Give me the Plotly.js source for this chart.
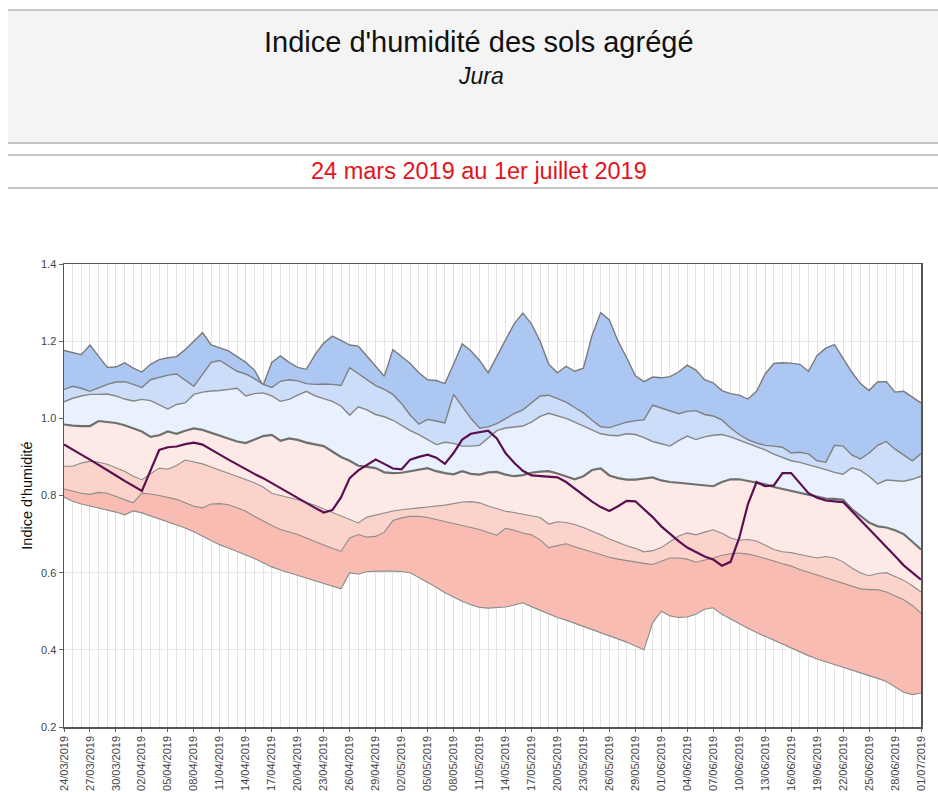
<!DOCTYPE html>
<html>
<head>
<meta charset="utf-8">
<script src="https://cdn.plot.ly/plotly-3.0.1.min.js"></script>
<style>
html,body{margin:0;padding:0;background:#fff;}
#chart{width:938px;height:792px;}
</style>
</head>
<body>
<div id="chart"></div>
<script>
// ---- data ----
const startDate = '2019-03-24';
const dates = [
'2019-03-24','2019-03-25','2019-03-26','2019-03-27','2019-03-28','2019-03-29','2019-03-30','2019-03-31',
'2019-04-01','2019-04-02','2019-04-03','2019-04-04','2019-04-05','2019-04-06','2019-04-07','2019-04-08','2019-04-09','2019-04-10',
'2019-04-11','2019-04-12','2019-04-13','2019-04-14','2019-04-15','2019-04-16','2019-04-17','2019-04-18','2019-04-19','2019-04-20',
'2019-04-21','2019-04-22','2019-04-23','2019-04-24','2019-04-25','2019-04-26','2019-04-27','2019-04-28','2019-04-29','2019-04-30',
'2019-05-01','2019-05-02','2019-05-03','2019-05-04','2019-05-05','2019-05-06','2019-05-07','2019-05-08','2019-05-09','2019-05-10',
'2019-05-11','2019-05-12','2019-05-13','2019-05-14','2019-05-15','2019-05-16','2019-05-17','2019-05-18','2019-05-19','2019-05-20',
'2019-05-21','2019-05-22','2019-05-23','2019-05-24','2019-05-25','2019-05-26','2019-05-27','2019-05-28','2019-05-29','2019-05-30','2019-05-31',
'2019-06-01','2019-06-02','2019-06-03','2019-06-04','2019-06-05','2019-06-06','2019-06-07','2019-06-08','2019-06-09','2019-06-10',
'2019-06-11','2019-06-12','2019-06-13','2019-06-14','2019-06-15','2019-06-16','2019-06-17','2019-06-18','2019-06-19','2019-06-20',
'2019-06-21','2019-06-22','2019-06-23','2019-06-24','2019-06-25','2019-06-26','2019-06-27','2019-06-28','2019-06-29','2019-06-30',
'2019-07-01'
];

const maxi = [1.176,1.17,1.165,1.19,1.16,1.132,1.133,1.144,1.13,1.12,1.14,1.152,1.157,1.16,1.178,1.2,1.222,1.19,1.183,1.175,
1.16,1.145,1.125,1.085,1.145,1.162,1.145,1.132,1.127,1.165,1.195,1.213,1.202,1.19,1.187,1.16,1.135,1.109,1.178,1.16,
1.142,1.118,1.1,1.098,1.09,1.14,1.193,1.175,1.15,1.118,1.16,1.2,1.245,1.273,1.245,1.2,1.14,1.118,1.135,1.122,
1.13,1.215,1.274,1.255,1.2,1.157,1.11,1.095,1.107,1.105,1.108,1.12,1.138,1.125,1.1,1.092,1.072,1.064,1.06,1.05,
1.07,1.115,1.142,1.144,1.143,1.14,1.122,1.163,1.182,1.191,1.155,1.12,1.09,1.072,1.095,1.095,1.068,1.07,1.055,1.04];

const decile9 = [1.075,1.083,1.078,1.07,1.079,1.088,1.094,1.095,1.088,1.08,1.1,1.107,1.112,1.115,1.098,1.083,1.114,1.145,1.15,1.135,
1.122,1.115,1.103,1.088,1.08,1.096,1.1,1.097,1.09,1.088,1.089,1.088,1.085,1.131,1.115,1.1,1.085,1.075,1.062,1.038,
1.008,0.985,0.997,0.993,0.988,1.062,1.032,1.0,0.975,0.978,0.986,1.0,1.012,1.022,1.04,1.058,1.06,1.052,1.042,1.028,
1.014,0.995,0.978,0.976,0.984,0.99,0.994,0.996,1.034,1.027,1.02,1.012,1.018,1.02,1.01,1.006,0.996,0.975,0.958,0.945,
0.936,0.93,0.928,0.925,0.91,0.912,0.908,0.89,0.886,0.93,0.928,0.905,0.895,0.91,0.93,0.94,0.92,0.905,0.89,0.908];

const quart3 = [1.043,1.052,1.058,1.062,1.062,1.063,1.058,1.05,1.045,1.049,1.046,1.035,1.024,1.036,1.04,1.062,1.068,1.071,1.072,1.075,
1.078,1.058,1.064,1.066,1.058,1.044,1.049,1.06,1.07,1.058,1.052,1.044,1.032,1.008,1.03,1.022,1.01,1.004,0.995,0.982,
0.968,0.958,0.945,0.932,0.938,0.935,0.928,0.928,0.93,0.95,0.968,0.975,0.978,0.98,0.99,1.005,1.013,1.006,1.0,0.99,
0.98,0.972,0.96,0.956,0.955,0.96,0.958,0.95,0.94,0.934,0.928,0.942,0.954,0.945,0.952,0.956,0.958,0.952,0.944,0.935,
0.928,0.918,0.907,0.898,0.89,0.886,0.88,0.874,0.867,0.86,0.855,0.872,0.865,0.85,0.83,0.84,0.838,0.837,0.842,0.85];

const mediane = [0.984,0.981,0.98,0.98,0.993,0.99,0.988,0.982,0.975,0.966,0.952,0.956,0.966,0.96,0.968,0.974,0.97,0.963,0.956,0.949,
0.94,0.936,0.945,0.954,0.957,0.942,0.948,0.944,0.937,0.932,0.928,0.914,0.9,0.89,0.877,0.874,0.871,0.86,0.858,0.859,
0.863,0.867,0.871,0.863,0.858,0.855,0.863,0.856,0.854,0.86,0.861,0.854,0.85,0.853,0.859,0.862,0.863,0.857,0.85,0.842,
0.85,0.866,0.87,0.852,0.845,0.841,0.841,0.844,0.847,0.839,0.835,0.833,0.831,0.829,0.826,0.824,0.835,0.842,0.842,0.838,
0.834,0.829,0.822,0.817,0.812,0.808,0.803,0.797,0.792,0.791,0.789,0.765,0.748,0.73,0.72,0.717,0.71,0.7,0.68,0.66];

const quart1 = [0.876,0.876,0.884,0.889,0.886,0.881,0.872,0.863,0.85,0.841,0.856,0.871,0.868,0.878,0.892,0.888,0.882,0.874,0.866,0.857,
0.849,0.842,0.833,0.822,0.806,0.8,0.795,0.789,0.782,0.775,0.765,0.756,0.747,0.738,0.729,0.744,0.749,0.755,0.76,0.763,
0.766,0.768,0.77,0.772,0.775,0.779,0.783,0.784,0.781,0.773,0.765,0.759,0.756,0.752,0.747,0.743,0.726,0.732,0.73,0.725,
0.717,0.708,0.698,0.687,0.678,0.67,0.663,0.654,0.657,0.665,0.68,0.695,0.703,0.698,0.705,0.711,0.702,0.69,0.684,0.686,
0.682,0.672,0.66,0.654,0.652,0.647,0.642,0.638,0.642,0.638,0.628,0.612,0.6,0.592,0.598,0.6,0.59,0.58,0.566,0.55];

const decile1 = [0.817,0.812,0.806,0.803,0.808,0.806,0.798,0.79,0.781,0.806,0.804,0.8,0.795,0.79,0.781,0.772,0.768,0.778,0.779,0.776,
0.768,0.759,0.746,0.733,0.722,0.712,0.706,0.699,0.69,0.68,0.672,0.663,0.655,0.69,0.699,0.692,0.694,0.705,0.735,0.742,
0.746,0.746,0.743,0.738,0.733,0.728,0.722,0.718,0.712,0.704,0.697,0.715,0.71,0.703,0.698,0.685,0.665,0.67,0.675,0.667,
0.66,0.654,0.647,0.64,0.635,0.631,0.627,0.624,0.621,0.63,0.638,0.638,0.635,0.627,0.632,0.638,0.645,0.649,0.651,0.648,
0.643,0.637,0.63,0.623,0.617,0.608,0.6,0.594,0.587,0.58,0.574,0.565,0.558,0.556,0.556,0.55,0.54,0.53,0.515,0.495];

const mini = [0.796,0.785,0.778,0.773,0.768,0.763,0.757,0.75,0.76,0.755,0.747,0.74,0.733,0.724,0.716,0.706,0.695,0.684,0.672,0.664,
0.656,0.646,0.637,0.626,0.615,0.607,0.6,0.593,0.587,0.58,0.574,0.566,0.558,0.6,0.596,0.603,0.604,0.604,0.604,0.603,
0.6,0.588,0.575,0.562,0.548,0.536,0.526,0.517,0.51,0.508,0.509,0.511,0.516,0.522,0.512,0.502,0.492,0.484,0.477,0.469,
0.46,0.451,0.444,0.435,0.427,0.42,0.41,0.4,0.47,0.5,0.488,0.484,0.485,0.492,0.505,0.509,0.492,0.48,0.466,0.456,
0.445,0.435,0.425,0.413,0.404,0.393,0.385,0.376,0.369,0.362,0.355,0.349,0.34,0.333,0.326,0.318,0.305,0.29,0.284,0.288];

const annee2019 = [0.932,0.92,0.906,0.893,0.88,0.866,0.852,0.838,0.824,0.812,0.865,0.918,0.925,0.927,0.933,0.937,0.932,0.92,0.906,0.893,
0.88,0.867,0.856,0.845,0.832,0.818,0.806,0.793,0.781,0.768,0.756,0.762,0.795,0.845,0.865,0.88,0.893,0.882,0.87,0.868,
0.893,0.9,0.906,0.898,0.882,0.91,0.945,0.96,0.964,0.968,0.948,0.91,0.885,0.864,0.852,0.85,0.849,0.847,0.835,0.818,
0.8,0.784,0.77,0.76,0.772,0.786,0.785,0.765,0.744,0.72,0.7,0.682,0.665,0.654,0.642,0.634,0.618,0.628,0.69,0.777,
0.835,0.824,0.826,0.858,0.858,0.832,0.806,0.794,0.787,0.785,0.783,0.76,0.737,0.714,0.69,0.667,0.643,0.619,0.6,0.582];

const titleText = "Indice d'humidité des sols agrégé";
const subtitleText = "Jura";
const periodText = "24 mars 2019 au 1er juillet 2019";
const yTitle = "Indice d'humidité";

// ---- styles ----
const bandSeries = [maxi, decile9, quart3, mediane, quart1, decile1, mini];
const bandNames = ['Maximum','Décile 9','Quartile 3','Médiane','Quartile 1','Décile 1','Minimum'];
const fillColors = [null,'#adc7f3','#cbddf8','#e8f1fd','#fdeae6','#fbd3cb','#f8bcb2'];
const lineColors = ['#7a7a7a','#7f7f7f','#858585','#6f6f6f','#8c8c8c','#8c8c8c','#8c8c8c'];
const lineWidths = [1.4,1.4,1.4,2.2,1.1,1.1,1.1];

const traces = bandSeries.map((ys, k) => ({
  type: 'scatter', mode: 'lines', x: dates, y: ys, name: bandNames[k],
  line: {color: lineColors[k], width: lineWidths[k], shape: 'linear'},
  fill: k === 0 ? 'none' : 'tonexty',
  fillcolor: fillColors[k] || undefined,
  hoverinfo: 'skip', showlegend: false
}));
traces.push({
  type: 'scatter', mode: 'lines', x: dates, y: annee2019, name: '2019',
  line: {color: '#5b0f52', width: 2.2}, hoverinfo: 'skip', showlegend: false
});

// page-pixel → paper helpers (for header decorations)
const W = 938, H = 792, ML = 64, MR = 17, MT = 264, MB = 65;
const PW = W - ML - MR, PH = H - MT - MB;
const px = p => (p - ML) / PW;
const py = p => (H - MB - p) / PH;

const shapes = [
  {type:'rect', xref:'paper', yref:'paper', x0:px(8), x1:px(938), y0:py(143), y1:py(10),
   fillcolor:'#f4f4f4', line:{width:0}, layer:'below'},
  {type:'line', xref:'paper', yref:'paper', x0:px(8), x1:px(938), y0:py(10), y1:py(10), line:{color:'#b4b4b4', width:1.5}},
  {type:'line', xref:'paper', yref:'paper', x0:px(8), x1:px(938), y0:py(143), y1:py(143), line:{color:'#b4b4b4', width:1.5}},
  {type:'line', xref:'paper', yref:'paper', x0:px(8), x1:px(938), y0:py(155), y1:py(155), line:{color:'#b4b4b4', width:1.5}},
  {type:'line', xref:'paper', yref:'paper', x0:px(8), x1:px(938), y0:py(188), y1:py(188), line:{color:'#b4b4b4', width:1.5}}
];

const annotations = [
  {text: titleText, xref:'paper', yref:'paper', x:px(479), y:py(42), showarrow:false,
   xanchor:'center', yanchor:'middle', font:{family:'Liberation Sans, Arial, sans-serif', size:29, color:'#111'}},
  {text: '<i>' + subtitleText + '</i>', xref:'paper', yref:'paper', x:px(481), y:py(76), showarrow:false,
   xanchor:'center', yanchor:'middle', font:{family:'Liberation Sans, Arial, sans-serif', size:23, color:'#111'}},
  {text: periodText, xref:'paper', yref:'paper', x:px(479), y:py(171), showarrow:false,
   xanchor:'center', yanchor:'middle', font:{family:'Liberation Sans, Arial, sans-serif', size:23.5, color:'#e3141b'}}
];

const layout = {
  width: W, height: H,
  margin: {l: ML, r: MR, t: MT, b: MB, pad: 0},
  paper_bgcolor: '#ffffff', plot_bgcolor: '#ffffff',
  showlegend: false,
  font: {family: 'Liberation Sans, Arial, sans-serif', color: '#444'},
  xaxis: {
    type: 'date', range: [dates[0], dates[dates.length - 1]],
    tickmode: 'linear', tick0: startDate, dtick: 3 * 86400000,
    tickformat: '%d/%m/%Y', tickangle: -90,
    tickfont: {size: 11, color: '#444'},
    ticks: 'outside', ticklen: 3, tickcolor: '#666',
    showgrid: true, gridcolor: '#e0e0e0', gridwidth: 1,
    minor: {tickmode: 'linear', tick0: startDate, dtick: 86400000, showgrid: true, gridcolor: '#e4e4e4', gridwidth: 1, ticks: ''},
    showline: true, linecolor: '#555', linewidth: 1.5, mirror: true,
    zeroline: false, automargin: false, fixedrange: true
  },
  yaxis: {
    range: [0.2, 1.4], tickmode: 'linear', tick0: 0.2, dtick: 0.2, tickformat: '.1f',
    tickfont: {size: 11, color: '#444'},
    ticks: 'outside', ticklen: 4, tickcolor: '#666',
    showgrid: true, gridcolor: '#e8e8e8', gridwidth: 1,
    showline: true, linecolor: '#555', linewidth: 1.5, mirror: true,
    zeroline: false, automargin: false, fixedrange: true,
    title: {text: yTitle, font: {size: 14.5, color: '#111'}, standoff: 5}
  },
  shapes: shapes,
  annotations: annotations
};

Plotly.newPlot('chart', traces, layout, {displayModeBar: false, staticPlot: true});
</script>
</body>
</html>
